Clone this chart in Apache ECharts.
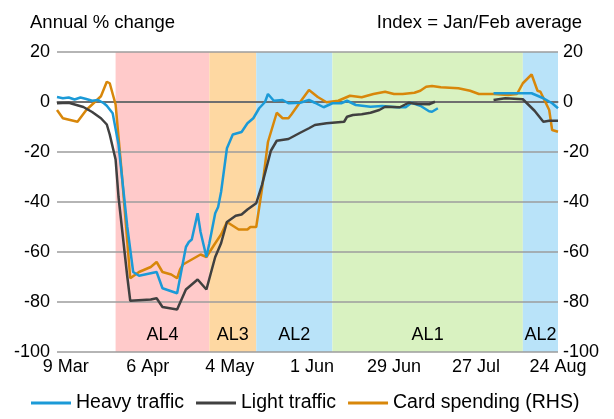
<!DOCTYPE html>
<html><head><meta charset="utf-8">
<script src="https://cdn.jsdelivr.net/npm/echarts@6/dist/echarts.min.js"></script>
<style>html,body{margin:0;padding:0;background:#fff}#c{width:614px;height:419px}</style>
</head><body><div id="c"></div><script>
// ---- data ----
const startDate = '2020-03-06';
const endDate = '2020-08-24';
const tickDates = ['2020-03-09','2020-04-06','2020-05-04','2020-06-01','2020-06-29','2020-07-27','2020-08-24'];
const yTicks = [-100, -80, -60, -40, -20, 0, 20];

const alertNames  = ['AL4','AL3','AL2','AL1','AL2'];
const alertStarts = ['2020-03-26','2020-04-27','2020-05-13','2020-06-08','2020-08-12'];
const alertEnds   = ['2020-04-27','2020-05-13','2020-06-08','2020-08-12','2020-08-24'];

const heavyTraffic = [
 ['2020-03-06',2.0],['2020-03-08',1.5],['2020-03-10',1.8],['2020-03-12',1.0],['2020-03-14',1.8],
 ['2020-03-16',1.2],['2020-03-18',0.5],['2020-03-20',0.8],['2020-03-22',-0.5],['2020-03-23',-1.5],
 ['2020-03-25',-4.5],['2020-03-27',-17],['2020-03-30',-50],['2020-04-01',-68],['2020-04-03',-69.5],
 ['2020-04-09',-68],['2020-04-11',-74.5],['2020-04-16',-76.5],['2020-04-19',-58],['2020-04-20',-56],
 ['2020-04-21',-55],['2020-04-23',-44.5],['2020-04-24',-52],['2020-04-26',-62],['2020-04-27',-56.5],
 ['2020-04-29',-44.5],['2020-04-30',-42],['2020-05-01',-36],['2020-05-03',-18.5],['2020-05-05',-13],
 ['2020-05-08',-12],['2020-05-10',-8.5],['2020-05-12',-6.5],['2020-05-14',-2.5],['2020-05-16',0],
 ['2020-05-17',3.2],['2020-05-19',0.5],['2020-05-22',0.8],['2020-05-24',-0.5],['2020-05-28',-0.3],
 ['2020-05-31',0.8],['2020-06-02',-0.3],['2020-06-05',-2.1],['2020-06-08',-0.5],['2020-06-11',-0.5],
 ['2020-06-13',0.5],['2020-06-16',-1.2],['2020-06-21',-1.9],['2020-06-25',-1.6],['2020-06-30',-2.1],
 ['2020-07-03',-2.1],['2020-07-05',-0.3],['2020-07-08',-1.5],['2020-07-11',-3.7],['2020-07-12',-3.9],
 ['2020-07-14',-2.5],['2020-07-20','-'],
 ['2020-08-02',3.5],['2020-08-09',3.5],['2020-08-15',3.5],['2020-08-19',1.5],['2020-08-22',-0.5],
 ['2020-08-24',-2.5]
];
const lightTraffic = [
 ['2020-03-06',-0.5],['2020-03-10',-0.3],['2020-03-15',-2],['2020-03-18',-4],['2020-03-21',-6.5],
 ['2020-03-23',-9],['2020-03-24',-13],['2020-03-26',-23],['2020-03-27',-38],['2020-03-30',-70],
 ['2020-03-31',-79.5],['2020-04-07',-79],['2020-04-09',-78.5],['2020-04-11',-82],['2020-04-16',-83],
 ['2020-04-19',-75],['2020-04-20',-74],['2020-04-21',-73],['2020-04-23',-71],['2020-04-26',-75],
 ['2020-04-29',-62],['2020-05-01',-56.5],['2020-05-03',-48],['2020-05-06',-45.5],['2020-05-08',-45],
 ['2020-05-10',-43],['2020-05-13',-40.5],['2020-05-15',-33],['2020-05-18',-19.5],['2020-05-20',-15.5],
 ['2020-05-24',-14.8],['2020-05-28',-12.3],['2020-05-31',-10.5],['2020-06-02',-9.2],['2020-06-06',-8.5],
 ['2020-06-12',-7.9],['2020-06-13',-5.9],['2020-06-15',-5.2],['2020-06-18',-4.9],['2020-06-21',-4.3],
 ['2020-06-24',-3.2],['2020-06-26',-1.9],['2020-07-01',-2.1],['2020-07-04',-0.3],['2020-07-07',-0.8],
 ['2020-07-11',-0.9],['2020-07-13',0.1],['2020-07-20','-'],
 ['2020-08-02',0.8],['2020-08-06',1.5],['2020-08-12',1.1],['2020-08-16',-3.5],['2020-08-19',-7.9],
 ['2020-08-21',-7.5],['2020-08-24',-7.5]
];
const cardSpending = [
 ['2020-03-06',-3.2],['2020-03-08',-6.5],['2020-03-13',-7.9],['2020-03-16',-3.2],['2020-03-21',2.3],
 ['2020-03-23',8.1],['2020-03-24',7.5],['2020-03-26',-1],['2020-03-28',-27],['2020-03-31',-70.5],
 ['2020-04-03',-68],['2020-04-06',-66.5],['2020-04-07',-66],['2020-04-09',-64],['2020-04-11',-68],
 ['2020-04-14',-69],['2020-04-16',-70.5],['2020-04-17',-67],['2020-04-18',-65],['2020-04-21',-63],
 ['2020-04-24',-61],['2020-04-26',-62],['2020-04-29',-56.5],['2020-05-01',-53],['2020-05-03',-48],
 ['2020-05-05',-49.5],['2020-05-07',-51],['2020-05-10',-51],['2020-05-11',-50],['2020-05-13',-50],
 ['2020-05-15',-34.5],['2020-05-17',-16],['2020-05-20',-4.3],['2020-05-22',-6.5],['2020-05-24',-6.5],
 ['2020-05-25',-5],['2020-05-28',0],['2020-05-31',4.8],['2020-06-03',2],['2020-06-06',-0.1],
 ['2020-06-10',0.5],['2020-06-14',2.5],['2020-06-18',1.9],['2020-06-22',3.2],['2020-06-26',4.1],
 ['2020-06-29',3.2],['2020-07-02',3.2],['2020-07-06',3.7],['2020-07-08',4.5],['2020-07-10',6.1],
 ['2020-07-12',6.4],['2020-07-15',5.9],['2020-07-21',5.5],['2020-07-25',4.5],['2020-07-28',3.2],
 ['2020-08-02',3.2],['2020-08-07',2.8],['2020-08-10',3.2],['2020-08-12',7.5],['2020-08-15',11],
 ['2020-08-17',4.5],['2020-08-18',4.1],['2020-08-21',-3.2],['2020-08-22',-11.2],['2020-08-24',-11.9]
];

// ---- build ----
const monthNames = ['Jan','Feb','Mar','Apr','May','Jun','Jul','Aug','Sep','Oct','Nov','Dec'];
const categories = [];
for (let d = new Date(startDate + 'T00:00:00Z'); d <= new Date(endDate + 'T00:00:00Z'); d.setUTCDate(d.getUTCDate() + 1)) {
  categories.push(d.toISOString().slice(0, 10));
}
const fmtDate = s => { const p = s.split('-'); return (+p[2]) + ' ' + monthNames[+p[1] - 1]; };

const alertColors = { AL4: '#ffcaca', AL3: '#fed8a2', AL2: '#b9e3f9', AL1: '#d9f2c1' };
const areaData = alertNames.map((n, i) => [
  { name: n, xAxis: alertStarts[i], itemStyle: { color: alertColors[n] } },
  { xAxis: alertEnds[i] }
]);

const FONT = 'Liberation Sans, Arial, sans-serif';
const FS = 18;
const chart = echarts.init(document.getElementById('c'));
chart.setOption({
  animation: false,
  backgroundColor: '#fff',
  textStyle: { fontFamily: FONT },
  grid: { left: 57, right: 56, top: 52, bottom: 67 },
  graphic: [
    { type: 'text', left: 30, top: 13, style: { text: 'Annual % change', font: '18.5px ' + FONT, fill: '#000' } },
    { type: 'text', right: 32, top: 13, style: { text: 'Index = Jan/Feb average', font: '18.5px ' + FONT, fill: '#000' } }
  ],
  legend: {
    bottom: 1, left: 26, itemWidth: 40, itemHeight: 3, itemGap: 12,
    icon: 'rect',
    textStyle: { fontSize: 19.5, color: '#000', fontFamily: FONT },
    data: ['Heavy traffic', 'Light traffic', 'Card spending (RHS)']
  },
  xAxis: {
    type: 'category', data: categories, boundaryGap: false, z: 2,
    axisLine: { lineStyle: { color: '#9d9d9d', width: 1.5 } },
    axisTick: { show: false },
    axisLabel: {
      interval: (idx, val) => tickDates.indexOf(val) >= 0,
      formatter: v => fmtDate(v), color: '#000', fontSize: FS, fontFamily: FONT, margin: 6
    },
    splitLine: { show: false }
  },
  yAxis: [
    { type: 'value', min: yTicks[0], max: yTicks[yTicks.length - 1], interval: 20, z: 2,
      axisLine: { show: false }, axisTick: { show: false },
      axisLabel: { color: '#000', fontSize: FS, fontFamily: FONT, margin: 7 },
      splitLine: { show: true, lineStyle: { color: '#9d9d9d', width: 1.5 } } },
    { type: 'value', min: yTicks[0], max: yTicks[yTicks.length - 1], interval: 20, z: 2,
      axisLine: { show: false }, axisTick: { show: false },
      axisLabel: { color: '#000', fontSize: FS, fontFamily: FONT, margin: 5 },
      splitLine: { show: false } }
  ],
  series: [
    { type: 'line', name: 'shade', data: [], z: 1, silent: true,
      markArea: { z: 1, silent: true, label: { show: true, position: 'insideBottom', distance: 8, color: '#000', fontSize: FS, fontFamily: FONT },
        data: areaData },
      markLine: { z: 3, silent: true, symbol: 'none', label: { show: false }, animation: false,
        lineStyle: { color: '#6f6f6f', width: 2, type: 'solid' }, data: [{ yAxis: 0 }] } },
    { type: 'line', name: 'Heavy traffic', data: heavyTraffic, z: 6, symbol: 'none', connectNulls: false,
      lineStyle: { color: '#1b9ad7', width: 2.5 }, itemStyle: { color: '#1b9ad7' } },
    { type: 'line', name: 'Light traffic', data: lightTraffic, z: 6, symbol: 'none', connectNulls: false,
      lineStyle: { color: '#404040', width: 2.5 }, itemStyle: { color: '#404040' } },
    { type: 'line', name: 'Card spending (RHS)', yAxisIndex: 1, data: cardSpending, z: 5, symbol: 'none',
      lineStyle: { color: '#d8870a', width: 2.5 }, itemStyle: { color: '#d8870a' } }
  ]
});
</script></body></html>
